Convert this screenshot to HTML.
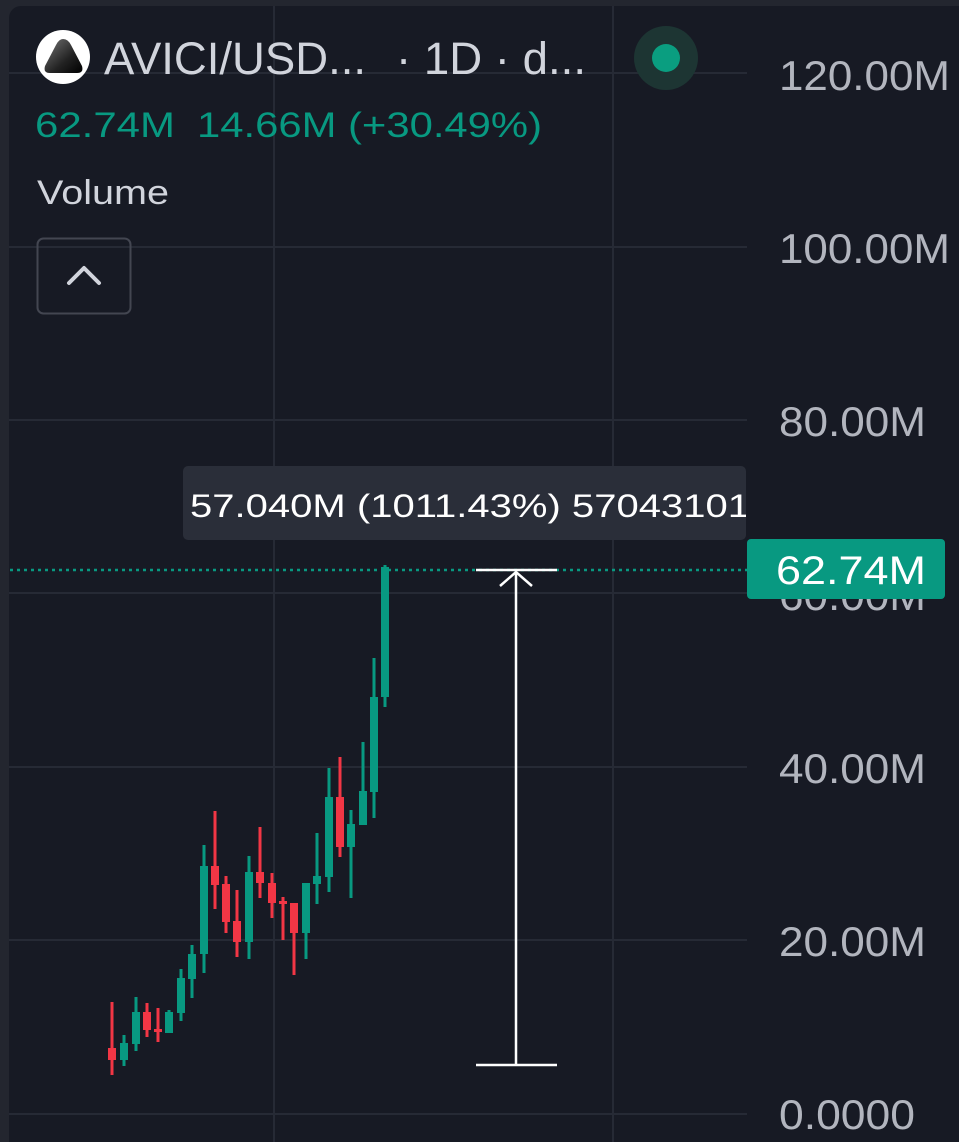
<!DOCTYPE html>
<html><head><meta charset="utf-8"><style>
html,body{margin:0;padding:0;background:#23262f;}
svg{display:block;font-family:"Liberation Sans",sans-serif;}
</style></head><body>
<svg width="959" height="1142" viewBox="0 0 959 1142">
<defs>
<linearGradient id="lg" x1="0" y1="0" x2="1" y2="1"><stop offset="0" stop-color="#777"/><stop offset="0.6" stop-color="#222"/><stop offset="1" stop-color="#000"/></linearGradient>
<clipPath id="tc"><rect x="183" y="466" width="563" height="74"/></clipPath>
</defs>
<rect x="0" y="0" width="959" height="1142" fill="#23262f"/>
<rect x="9" y="6" width="980" height="1160" rx="12" fill="#171a24"/>
<g stroke="#262a35" stroke-width="2">
<line x1="274" y1="6" x2="274" y2="1142"/>
<line x1="613" y1="6" x2="613" y2="1142"/>
<line x1="9" y1="73" x2="747" y2="73"/>
<line x1="9" y1="247" x2="747" y2="247"/>
<line x1="9" y1="420" x2="747" y2="420"/>
<line x1="9" y1="593" x2="747" y2="593"/>
<line x1="9" y1="767" x2="747" y2="767"/>
<line x1="9" y1="940" x2="747" y2="940"/>
<line x1="9" y1="1114" x2="747" y2="1114"/>
</g>
<g fill="#b2b5be" font-size="42">
<text x="779" y="90" textLength="171" lengthAdjust="spacingAndGlyphs">120.00M</text>
<text x="779" y="263" textLength="171" lengthAdjust="spacingAndGlyphs">100.00M</text>
<text x="779" y="436" textLength="147" lengthAdjust="spacingAndGlyphs">80.00M</text>
<text x="779" y="610" textLength="147" lengthAdjust="spacingAndGlyphs">60.00M</text>
<text x="779" y="783" textLength="147" lengthAdjust="spacingAndGlyphs">40.00M</text>
<text x="779" y="956" textLength="147" lengthAdjust="spacingAndGlyphs">20.00M</text>
<text x="779" y="1129" textLength="136" lengthAdjust="spacingAndGlyphs">0.0000</text>
</g>
<circle cx="63" cy="57" r="27" fill="#fff"/>
<path d="M63 39 Q68 39 71 45 L82 66 Q84 73 77 73 L50 73 Q43 73 45 66 L56 45 Q59 39 63 39Z" fill="url(#lg)"/>
<text x="104" y="74" font-size="45" fill="#d1d4dc" textLength="262" lengthAdjust="spacingAndGlyphs">AVICI/USD...</text>
<text x="396" y="74" font-size="45" fill="#d1d4dc" textLength="190" lengthAdjust="spacingAndGlyphs">· 1D · d...</text>
<circle cx="666" cy="58" r="32" fill="#1d3533"/>
<circle cx="666" cy="58" r="14" fill="#0a9e80"/>
<text x="35" y="137" font-size="35" fill="#089981" textLength="140" lengthAdjust="spacingAndGlyphs">62.74M</text>
<text x="197" y="137" font-size="35" fill="#089981" textLength="345" lengthAdjust="spacingAndGlyphs">14.66M (+30.49%)</text>
<text x="37" y="204" font-size="34" fill="#d1d4dc" textLength="132" lengthAdjust="spacingAndGlyphs">Volume</text>
<rect x="37.5" y="238.5" width="93" height="75" rx="6" fill="none" stroke="#434651" stroke-width="2"/>
<path d="M69 283 L84 268 L99 283" fill="none" stroke="#d1d4dc" stroke-width="4" stroke-linecap="round" stroke-linejoin="round"/>
<g stroke-width="3">
<g fill="#f23645" stroke="#f23645">
<line x1="112" y1="1002" x2="112" y2="1075"/><rect x="108" y="1048" width="8" height="12" stroke="none"/>
<line x1="147" y1="1003" x2="147" y2="1037"/><rect x="143" y="1012" width="8" height="18" stroke="none"/>
<line x1="158" y1="1008" x2="158" y2="1042"/><rect x="154" y="1029" width="8" height="3" stroke="none"/>
<line x1="215" y1="811" x2="215" y2="909"/><rect x="211" y="866" width="8" height="19" stroke="none"/>
<line x1="226" y1="876" x2="226" y2="933"/><rect x="222" y="884" width="8" height="38" stroke="none"/>
<line x1="237" y1="890" x2="237" y2="957"/><rect x="233" y="921" width="8" height="21" stroke="none"/>
<line x1="260" y1="827" x2="260" y2="898"/><rect x="256" y="872" width="8" height="11" stroke="none"/>
<line x1="272" y1="873" x2="272" y2="918"/><rect x="268" y="883" width="8" height="20" stroke="none"/>
<line x1="283" y1="897" x2="283" y2="940"/><rect x="279" y="901" width="8" height="3" stroke="none"/>
<line x1="294" y1="903" x2="294" y2="975"/><rect x="290" y="903" width="8" height="30" stroke="none"/>
<line x1="340" y1="757" x2="340" y2="857"/><rect x="336" y="797" width="8" height="50" stroke="none"/>
</g>
<g fill="#089981" stroke="#089981">
<line x1="124" y1="1035" x2="124" y2="1066"/><rect x="120" y="1043" width="8" height="17" stroke="none"/>
<line x1="136" y1="997" x2="136" y2="1051"/><rect x="132" y="1012" width="8" height="32" stroke="none"/>
<line x1="169" y1="1010" x2="169" y2="1033"/><rect x="165" y="1012" width="8" height="21" stroke="none"/>
<line x1="181" y1="969" x2="181" y2="1021"/><rect x="177" y="978" width="8" height="35" stroke="none"/>
<line x1="192" y1="945" x2="192" y2="998"/><rect x="188" y="954" width="8" height="25" stroke="none"/>
<line x1="204" y1="845" x2="204" y2="973"/><rect x="200" y="866" width="8" height="88" stroke="none"/>
<line x1="249" y1="856" x2="249" y2="959"/><rect x="245" y="872" width="8" height="70" stroke="none"/>
<line x1="306" y1="883" x2="306" y2="959"/><rect x="302" y="883" width="8" height="50" stroke="none"/>
<line x1="317" y1="833" x2="317" y2="904"/><rect x="313" y="876" width="8" height="8" stroke="none"/>
<line x1="329" y1="768" x2="329" y2="892"/><rect x="325" y="797" width="8" height="80" stroke="none"/>
<line x1="351" y1="810" x2="351" y2="898"/><rect x="347" y="824" width="8" height="23" stroke="none"/>
<line x1="363" y1="742" x2="363" y2="825"/><rect x="359" y="791" width="8" height="34" stroke="none"/>
<line x1="374" y1="658" x2="374" y2="818"/><rect x="370" y="697" width="8" height="95" stroke="none"/>
<line x1="385" y1="565" x2="385" y2="707"/><rect x="381" y="567" width="8" height="130" stroke="none"/>
</g>
</g>
<line x1="10" y1="570" x2="747" y2="570" stroke="#089981" stroke-width="2.5" stroke-dasharray="3 4"/>
<g stroke="#fff" stroke-width="2.5" fill="none">
<line x1="476" y1="570" x2="557" y2="570"/>
<line x1="476" y1="1065" x2="557" y2="1065"/>
<line x1="516" y1="572" x2="516" y2="1065"/>
<path d="M500 586 L516 572 L532 586"/>
</g>
<rect x="183" y="466" width="563" height="74" rx="5" fill="#2a2e39"/>
<text x="190" y="517" font-size="32" fill="#fff" clip-path="url(#tc)" textLength="560" lengthAdjust="spacingAndGlyphs">57.040M (1011.43%) 57043101</text>
<rect x="747" y="539" width="198" height="60" rx="4" fill="#089981"/>
<text x="776" y="584" font-size="40" fill="#fff" textLength="150" lengthAdjust="spacingAndGlyphs">62.74M</text>
</svg>
</body></html>
